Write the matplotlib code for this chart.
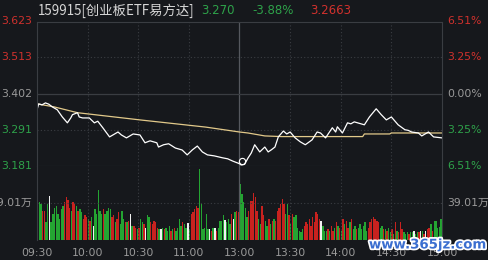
import matplotlib.pyplot as plt
import matplotlib.patheffects as pe

# ---- datos ----
titulo = '159915[创业板ETF易方达]'
ultimo = '3.270'
cambio = '-3.88%'
promedio_txt = '3.2663'

cierre_previo = 3.402
niveles = [3.623, 3.513, 3.402, 3.291, 3.181]
niveles_pct = ['6.51%', '3.25%', '0.00%', '3.25%', '6.51%']
vol_medio = 39.01  # 万

horas = ['09:30', '10:00', '10:30', '11:00', '13:00', '13:30', '14:00', '14:30', '15:00']

# precio (minuto de sesion, precio)
min_precio = [0, 1, 3, 5, 7, 9, 12, 15, 18, 20, 21, 24, 25, 27, 31, 34, 36, 39, 43, 46, 48, 50, 53, 57, 61,
              64, 67, 71, 72, 75, 78, 82, 86, 89, 92, 95, 98, 101, 105, 110, 113, 116, 120, 121, 123,
              125, 127, 129, 132, 135, 137, 139, 141, 143, 146, 148, 150, 153, 156, 159, 163,
              166, 168, 171, 175, 177, 178, 181, 184, 186, 188, 190, 194, 197, 201, 204, 207, 210, 214, 218,
              220, 222, 226, 228, 230, 232, 235, 240]
precio = [3.353, 3.371, 3.368, 3.374, 3.370, 3.362, 3.353, 3.331, 3.313, 3.328, 3.338, 3.344, 3.331,
          3.328, 3.328, 3.313, 3.318, 3.298, 3.270, 3.279, 3.285, 3.276, 3.267, 3.279, 3.276,
          3.252, 3.258, 3.252, 3.239, 3.246, 3.249, 3.236, 3.230, 3.215, 3.230, 3.242, 3.224, 3.215, 3.212,
          3.206, 3.203, 3.196, 3.188, 3.184, 3.186,
          3.205, 3.221, 3.246, 3.224, 3.239, 3.224, 3.231, 3.239, 3.270, 3.288, 3.279, 3.285, 3.267, 3.255,
          3.246, 3.261,
          3.285, 3.282, 3.267, 3.298, 3.285, 3.301, 3.282, 3.313, 3.310, 3.316, 3.313, 3.307, 3.331, 3.356,
          3.338, 3.322, 3.331, 3.307, 3.292,
          3.290, 3.285, 3.282, 3.273, 3.279, 3.285, 3.270, 3.267]

# precio medio
min_medio = [0, 10, 24, 61, 100, 120, 125, 135, 145, 193, 194, 209, 210, 240]
medio = [3.371, 3.362, 3.344, 3.322, 3.300, 3.285, 3.282, 3.273, 3.271, 3.271, 3.279, 3.279, 3.282, 3.282]

# volumen por minuto (万)
vol_manana = [56,
              40, 38, 31, 31, 19, 38, 46, 19, 27, 34,
              36, 27, 22, 33, 36, 40, 45, 42, 34, 31,
              40, 38, 36, 31, 33, 29, 22, 26, 24, 22,
              20, 24, 15, 33, 27, 53, 31, 27, 33, 27,
              31, 34, 33, 24, 26, 19, 22, 29, 17, 31,
              22, 19, 19, 20, 27, 15, 15, 13, 12, 13,
              22, 19, 17, 13, 26, 24, 19, 17, 20, 19,
              13, 12, 12, 13, 12, 13, 10, 15, 10, 12,
              13, 10, 13, 22, 15, 19, 17, 13, 18, 12,
              27, 29, 33, 36, 34, 75, 38, 12, 13, 27,
              12, 12, 10, 13, 13, 10, 13, 20, 20, 26,
              21, 19, 22, 17, 27, 22, 29, 31,
              30]
col_manana = ('r' + 'ggrrggwggg' + 'gggggrrrrg' + 'rrgrggrrrg' + 'rgwgggggrg' + 'gggrrgrrgg'
              + 'grgrwgrrgr' + 'ggrwggrrrr' + 'rgwgrgggrg' + 'rggggrggwg' + 'rrrrrggggg'
              + 'gwrgwrgggg' + 'wgggrwgr' + 'r')
vol_tarde = [59, 48, 40, 34, 24, 31, 41, 41, 50, 45,
             31, 22, 17, 36, 26, 20, 15, 22, 17, 20,
             22, 20, 31, 34, 38, 43, 38, 27, 38, 26,
             17, 27, 24, 26, 13, 10, 8, 12, 15, 19,
             17, 22, 15, 24, 19, 29, 27, 22, 20, 15,
             10, 10, 12, 10, 15, 10, 13, 19, 15, 13,
             10, 22, 17, 20, 13, 19, 22, 12, 15, 12,
             13, 17, 12, 15, 19, 10, 13, 19, 22, 24,
             22, 20, 19, 13, 15, 12, 12, 10, 13, 8,
             12, 6, 19, 10, 8, 19, 12, 8, 6, 8,
             6, 8, 8, 10, 6, 8, 8, 10, 10, 6,
             10, 12, 13, 17, 10, 20, 20, 13, 14, 22]
col_tarde = ('gggggrrrrr' + 'rggrrggrgr' + 'grrrrrrggr' + 'grggggggrr' + 'rrrrrrrrwg'
             + 'ggrgrrgrgr' + 'grgrrgrggr' + 'ggggggrrrr' + 'rrrggrgrgg' + 'rgrgrrrggg'
             + 'rggwggrwgr' + 'wrrgrggg' + 'gg')

# ---- estilo ----
fondo = '#16181c'
rojo = '#d0312d'
verde = '#2ea24a'
gris = '#9a9a9a'
borde = '#3a3d42'
colores = {'r': '#c8221f', 'g': '#24a532', 'w': '#f2f2f2'}

plt.rcParams['font.family'] = ['DejaVu Sans', 'Noto Sans CJK SC']

fig = plt.figure(figsize=(4.89, 2.60), dpi=100, facecolor=fondo)
ax = fig.add_axes([37 / 489, 1 - 166 / 260, 405 / 489, 144.5 / 260], facecolor=fondo)
axv = fig.add_axes([37 / 489, 1 - 240 / 260, 405 / 489, 74 / 260], facecolor=fondo, sharex=ax)

for a in (ax, axv):
    for s in a.spines.values():
        s.set_color(borde)
        s.set_linewidth(0.8)
    a.tick_params(length=0, labelleft=False, labelbottom=False)
axv.spines['bottom'].set_visible(False)
axv.spines['top'].set_visible(False)

ax.set_xlim(0, 240)
ax.set_ylim(niveles[-1], niveles[0])
axv.set_ylim(0, vol_medio * 2)

# rejilla
for m in [30, 60, 90, 150, 180, 210]:
    ax.axvline(m, color=borde, lw=0.8, ls=(0, (1, 2)))
    axv.axvline(m, color=borde, lw=0.8, ls=(0, (1, 2)))
ax.axvline(120, color='#55585e', lw=0.9)
axv.axvline(120, color='#55585e', lw=0.9)
for n in niveles[1:-1]:
    if n == cierre_previo:
        ax.axhline(n, color=borde, lw=0.9)
    else:
        ax.axhline(n, color=borde, lw=0.8, ls=(0, (1, 2)))
axv.axhline(vol_medio, color=borde, lw=0.8, ls=(0, (1, 2)))

# lineas de precio
ax.plot(min_medio, medio, color='#e2c98a', lw=0.9)
ax.plot(min_precio, precio, color='white', lw=0.9)
ax.plot([121.5], [3.196], marker='o', ms=4.5, mfc='none', mec='white', mew=0.8, clip_on=False)

# volumen
vols = vol_manana + vol_tarde
cols = col_manana + col_tarde
axv.bar(range(len(vols)), vols, width=0.78, color=[colores[c] for c in cols], align='edge',
        linewidth=0)

# etiquetas eje y
col_niv = [rojo, rojo, gris, verde, verde]
for n, p, c in zip(niveles, niveles_pct, col_niv):
    ax.text(-0.012, n, f'{n:.3f}', transform=ax.get_yaxis_transform(), ha='right', va='center',
            color=c, fontsize=7.8)
    ax.text(1.012, n, p, transform=ax.get_yaxis_transform(), ha='left', va='center',
            color=c, fontsize=7.8)
axv.text(-0.012, vol_medio, f'{vol_medio:.2f}万', transform=axv.get_yaxis_transform(),
         ha='right', va='center', color=gris, fontsize=7.8)
axv.text(1.012, vol_medio, f'{vol_medio:.2f}万', transform=axv.get_yaxis_transform(),
         ha='left', va='center', color=gris, fontsize=7.8)

# etiquetas de hora
for i, h in enumerate(horas):
    axv.text(i * 30, -0.17, h, transform=axv.get_xaxis_transform(), ha='center', va='center',
             color=gris, fontsize=7.8)

# titulo
fig.text(38 / 489, 1 - 11 / 260, titulo, color='#d6d6d6', fontsize=9.6, va='center',
         family=['Noto Sans CJK SC', 'DejaVu Sans'])
fig.text(218 / 489, 1 - 11 / 260, ultimo, color=verde, fontsize=8.5, va='center', ha='center')
fig.text(273 / 489, 1 - 11 / 260, cambio, color=verde, fontsize=8.5, va='center', ha='center')
fig.text(331 / 489, 1 - 11 / 260, promedio_txt, color=rojo, fontsize=8.5, va='center', ha='center')

# marca de agua
fig.text(428 / 489, 1 - 245 / 260, 'www.365jz.com', color='#3b6fd0', fontsize=9.6,
         fontweight='bold', ha='center', va='center',
         path_effects=[pe.withStroke(linewidth=2.5, foreground='white')])

fig.savefig('out.png', dpi=100, facecolor=fondo)
